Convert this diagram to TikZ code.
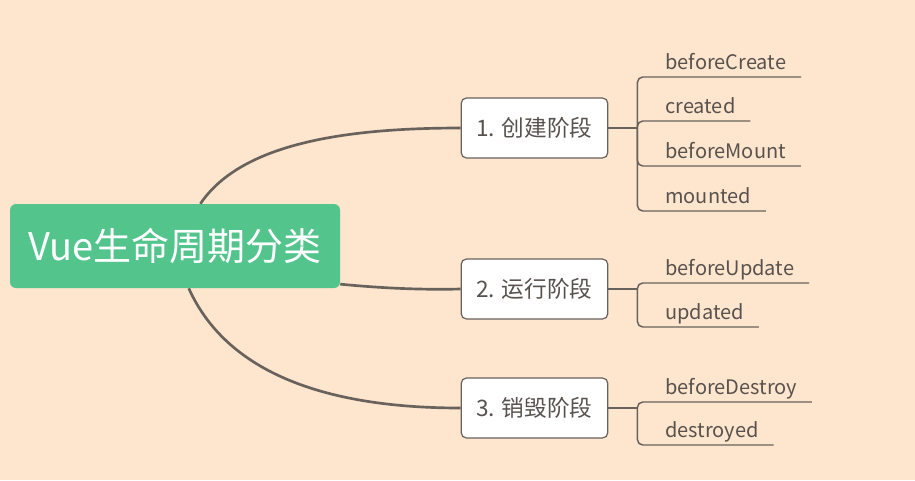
\documentclass[tikz,border=0pt]{standalone}
\usepackage{fontspec}
\setmainfont{Noto Sans CJK SC}
\definecolor{PeachBg}{HTML}{FEE5CE}
\definecolor{RootGreen}{HTML}{52C48C}
\definecolor{LineGray}{HTML}{68625D}
\definecolor{TextGray}{HTML}{58524E}
\begin{document}
\begin{tikzpicture}
[
x=0.75pt, y=-0.75pt,
RootBox/.style={rectangle, rounded corners=4.5pt, fill=RootGreen, text=white, minimum width=247.5pt, minimum height=63pt, inner sep=0pt, font=\fontsize{28.5}{30}\selectfont},
StageBox/.style={rectangle, rounded corners=4pt, draw=LineGray, fill=white, line width=0.9pt, text=TextGray, minimum width=110pt, minimum height=45pt, inner sep=0pt, font=\fontsize{17}{19}\selectfont},
Leaf/.style={anchor=south west, inner xsep=0pt, inner ysep=5.25pt, text depth=0pt, text=TextGray, font=\fontsize{15}{17}\selectfont},
MainCurve/.style={draw=LineGray, line width=2pt},
BranchLine/.style={draw=LineGray, line width=1.5pt},
LeafLine/.style={draw=LineGray, line width=1.1pt, rounded corners=4pt},
]

\fill[PeachBg] (0,0) rectangle (915,480);
\useasboundingbox (0,0) rectangle (915,480);

\node[RootBox] (root) at (175,246) {Vue生命周期分类};

\node[StageBox] (s1) at (534.5,128) {1. 创建阶段};
\node[StageBox] (s2) at (534.5,289) {2. 运行阶段};
\node[StageBox] (s3) at (534.5,408) {3. 销毁阶段};

\draw[MainCurve] (root.59) .. controls (240,145) and (340,128) .. (s1.west);
\draw[MainCurve] (root.-13) .. controls (380,288) and (420,290) .. (s2.west);
\draw[MainCurve] (root.-72) .. controls (230,380) and (340,408) .. (s3.west);

\coordinate (j1) at ([xshift=21.75pt]s1.east);
\coordinate (j2) at ([xshift=21.75pt]s2.east);
\coordinate (j3) at ([xshift=21.75pt]s3.east);
\draw[BranchLine] (s1.east) -- (j1);
\draw[BranchLine] (s2.east) -- (j2);
\draw[BranchLine] (s3.east) -- (j3);

\node[Leaf] (c1) at (665,77) {beforeCreate};
\node[Leaf] (c2) at (665,121) {created};
\node[Leaf] (c3) at (665,166) {beforeMount};
\node[Leaf] (c4) at (665,211) {mounted};
\node[Leaf] (r1) at (665,283) {beforeUpdate};
\node[Leaf] (r2) at (665,327) {updated};
\node[Leaf] (d1) at (665,402) {beforeDestroy};
\node[Leaf] (d2) at (665,445) {destroyed};

\foreach \leaf/\junc in {c1/j1, c2/j1, c3/j1, c4/j1, r1/j2, r2/j2, d1/j3, d2/j3}
  \draw[LeafLine] (\junc) |- (\leaf.south west) -- ([xshift=11pt]\leaf.south east);

\end{tikzpicture}
\end{document}
